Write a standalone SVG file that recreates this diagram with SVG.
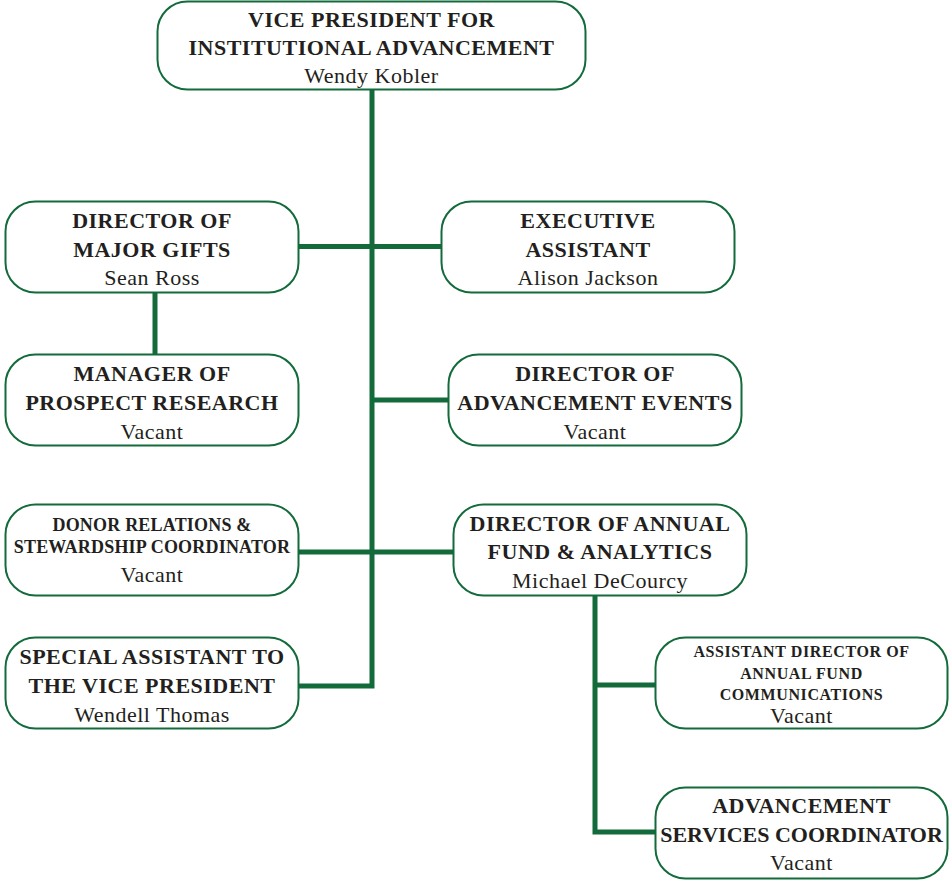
<svg xmlns="http://www.w3.org/2000/svg" width="950" height="882" viewBox="0 0 950 882">
<style>
.box{fill:#fff;stroke:#136b3b;stroke-width:2}
.con{fill:none;stroke:#136b3b;stroke-width:5;stroke-linejoin:miter}
text{font-family:"Liberation Serif","Times New Roman",serif;fill:#231f20;text-anchor:middle}
.t{font-weight:bold;font-size:22px;letter-spacing:0.5px}
.s{font-weight:bold;font-size:18px;letter-spacing:0.2px}
.x{font-weight:bold;font-size:16px;letter-spacing:0.6px}
.n{font-size:22px;letter-spacing:0.5px}
</style>
<rect width="950" height="882" fill="#fff"/>
<g id="connectors">
<path class="con" d="M372,90 V686 H298"/>
<path class="con" d="M298,246.5 H442"/>
<path class="con" d="M372,400 H449"/>
<path class="con" d="M298,552 H454"/>
<path class="con" d="M155,293 V355"/>
<path class="con" d="M595,596 V832 H656"/>
<path class="con" d="M595,685 H656"/>
</g>
<g id="vp">
<rect class="box" x="157.5" y="1.5" width="428" height="88" rx="30"/>
<text class="t" x="371.5" y="27">VICE PRESIDENT FOR</text>
<text class="t" x="371.5" y="55">INSTITUTIONAL ADVANCEMENT</text>
<text class="n" x="371.5" y="83">Wendy Kobler</text>
</g>
<g id="major-gifts">
<rect class="box" x="5.5" y="201.5" width="293" height="91" rx="30"/>
<text class="t" x="152" y="227.5">DIRECTOR OF</text>
<text class="t" x="152" y="256.5">MAJOR GIFTS</text>
<text class="n" x="152" y="285">Sean Ross</text>
</g>
<g id="exec-assistant">
<rect class="box" x="441.5" y="201.5" width="293" height="91" rx="30"/>
<text class="t" x="588" y="227.5">EXECUTIVE</text>
<text class="t" x="588" y="256.5">ASSISTANT</text>
<text class="n" x="588" y="285">Alison Jackson</text>
</g>
<g id="prospect-research">
<rect class="box" x="5.5" y="354.5" width="293" height="91" rx="30"/>
<text class="t" x="152" y="381">MANAGER OF</text>
<text class="t" x="152" y="410">PROSPECT RESEARCH</text>
<text class="n" x="152" y="438.5">Vacant</text>
</g>
<g id="advancement-events">
<rect class="box" x="448.5" y="354.5" width="293" height="91" rx="30"/>
<text class="t" x="595" y="381">DIRECTOR OF</text>
<text class="t" x="595" y="410">ADVANCEMENT EVENTS</text>
<text class="n" x="595" y="438.5">Vacant</text>
</g>
<g id="donor-relations">
<rect class="box" x="5.5" y="504.5" width="293" height="91" rx="30"/>
<text class="s" x="152" y="531">DONOR RELATIONS &amp;</text>
<text class="s" x="152" y="552.5">STEWARDSHIP COORDINATOR</text>
<text class="n" x="152" y="582">Vacant</text>
</g>
<g id="annual-fund">
<rect class="box" x="453.5" y="504.5" width="293" height="91" rx="30"/>
<text class="t" x="600" y="531">DIRECTOR OF ANNUAL</text>
<text class="t" x="600" y="559">FUND &amp; ANALYTICS</text>
<text class="n" x="600" y="588">Michael DeCourcy</text>
</g>
<g id="special-assistant">
<rect class="box" x="5.5" y="637.5" width="293" height="91" rx="30"/>
<text class="t" x="152" y="664">SPECIAL ASSISTANT TO</text>
<text class="t" x="152" y="692.5">THE VICE PRESIDENT</text>
<text class="n" x="152" y="722">Wendell Thomas</text>
</g>
<g id="annual-fund-communications">
<rect class="box" x="655.5" y="637.5" width="292" height="91" rx="30"/>
<text class="x" x="801.5" y="657">ASSISTANT DIRECTOR OF</text>
<text class="x" x="801.5" y="678.5">ANNUAL FUND</text>
<text class="x" x="801.5" y="699.5">COMMUNICATIONS</text>
<text class="n" x="801.5" y="723">Vacant</text>
</g>
<g id="advancement-services">
<rect class="box" x="655.5" y="787.5" width="292" height="91" rx="30"/>
<text class="t" x="801.5" y="813">ADVANCEMENT</text>
<text class="t" x="801.5" y="842" style="letter-spacing:0">SERVICES COORDINATOR</text>
<text class="n" x="801.5" y="870">Vacant</text>
</g>
</svg>
